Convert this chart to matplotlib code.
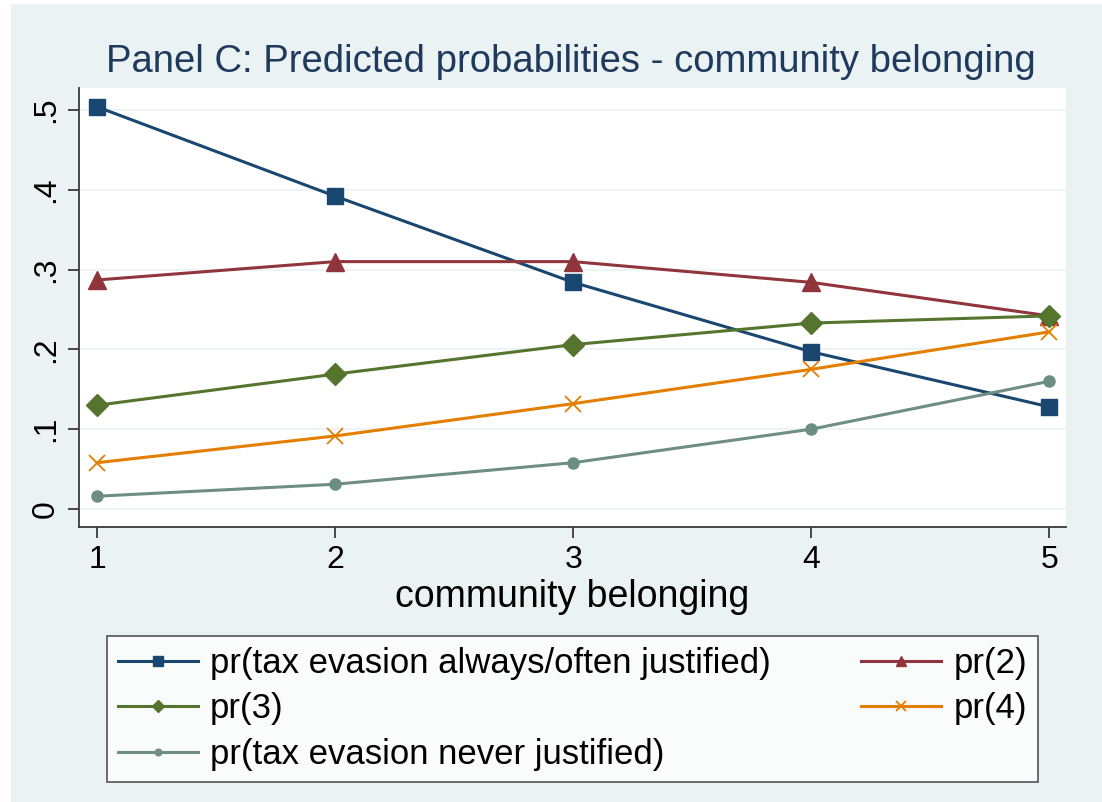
import matplotlib.pyplot as plt
from matplotlib.patches import Rectangle

plt.rcParams['font.family'] = ['Liberation Sans', 'DejaVu Sans']

# data
belonging = [1, 2, 3, 4, 5]
pr_always = [0.504, 0.392, 0.284, 0.197, 0.128]
pr_2 = [0.287, 0.310, 0.310, 0.284, 0.242]
pr_3 = [0.130, 0.169, 0.206, 0.233, 0.242]
pr_4 = [0.058, 0.0915, 0.132, 0.175, 0.222]
pr_never = [0.016, 0.031, 0.058, 0.100, 0.160]

yticks = [0, 0.1, 0.2, 0.3, 0.4, 0.5]
ylabels = ["0", ".1", ".2", ".3", ".4", ".5"]

bg = "#eaf2f3"

fig = plt.figure(figsize=(11.02, 8.02), dpi=100, facecolor="white")
# stata-style light panel behind everything, leaving a thin white edge
fig.patches.append(Rectangle((11 / 1102, 0), 1 - 11 / 1102, 1 - 4 / 802,
                             transform=fig.transFigure, facecolor=bg,
                             edgecolor="none", zorder=-10))

ax = fig.add_axes([79 / 1102, 1 - 527 / 802, (1066 - 79) / 1102, (527 - 88) / 802])
ax.set_facecolor("white")

lw = 2.2
l1, = ax.plot(belonging, pr_always, color="#1a476f", lw=lw, marker="s", ms=12,
              label="pr(tax evasion always/often justified)")
l2, = ax.plot(belonging, pr_2, color="#90353b", lw=lw, marker="^", ms=13,
              label="pr(2)")
l3, = ax.plot(belonging, pr_3, color="#55752f", lw=lw, marker="D", ms=11,
              label="pr(3)")
l4, = ax.plot(belonging, pr_4, color="#e37e00", lw=lw, marker="x", ms=12, mew=1.3,
              label="pr(4)")
l5, = ax.plot(belonging, pr_never, color="#6e8e84", lw=lw, marker="o", ms=8,
              label="pr(tax evasion never justified)")

ax.set_xlim(0.924, 5.07)
ax.set_ylim(-0.0226, 0.5276)
ax.set_xticks(belonging)
ax.set_yticks(yticks)
ax.set_yticklabels(ylabels, rotation=90, va="center")
ax.grid(axis="y", color=bg, lw=1.2)
ax.set_axisbelow(True)

for s in ["top", "right"]:
    ax.spines[s].set_visible(False)
for s in ["left", "bottom"]:
    ax.spines[s].set_color("#3a3a3a")
    ax.spines[s].set_linewidth(1.3)
ax.tick_params(length=8, width=1.3, color="#3a3a3a", labelsize=23, pad=5)

ax.set_xlabel("community belonging", fontsize=27, labelpad=3)
fig.text(0.518, 1 - 62 / 802, "Panel C: Predicted probabilities - community belonging",
         ha="center", va="center", fontsize=27.5, color="#1f3a5c")

# two-column legend, row order like stata
leg = fig.legend([l1, l3, l5, l2, l4],
                 [l1.get_label(), l3.get_label(), l5.get_label(), l2.get_label(), l4.get_label()],
                 ncol=2, loc="lower left", mode="expand",
                 bbox_to_anchor=(107 / 1102, 20 / 802, (1038 - 107) / 1102, (782 - 636) / 802),
                 fontsize=25, frameon=True, fancybox=False, edgecolor="#3a3a3a",
                 handlelength=2.3, handletextpad=0.35, markerscale=0.6,
                 labelspacing=0.36, borderpad=0.32, borderaxespad=0)
leg.get_frame().set_linewidth(1.3)

fig.savefig("out.png", dpi=100, facecolor="white")
